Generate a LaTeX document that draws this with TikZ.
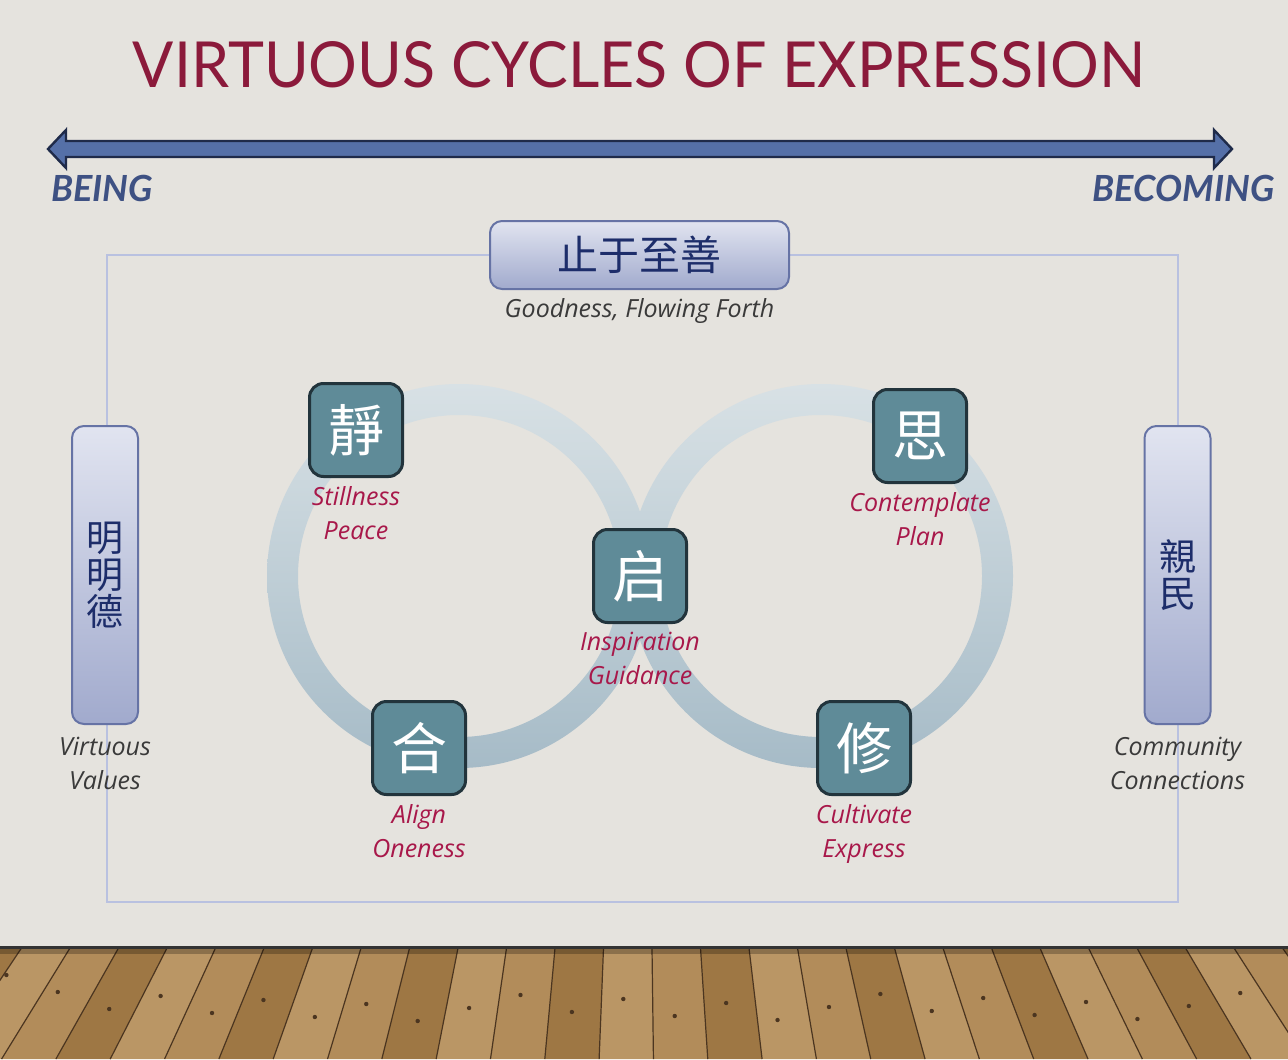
\documentclass[tikz,border=0pt]{standalone}
\usepackage{graphicx}
\usepackage{fontspec}
\setmainfont{Open Sans}
\newfontfamily\titlefont{Lato}
\newfontfamily\cjk{Noto Sans CJK TC}
\usetikzlibrary{positioning}

\definecolor{wall}{HTML}{E5E3DE}
\definecolor{titlered}{HTML}{8B1A3B}
\definecolor{arrowfill}{HTML}{5570A8}
\definecolor{arrowedge}{HTML}{1F2B4A}
\definecolor{beingblue}{HTML}{3E5183}
\definecolor{framelav}{HTML}{B9C1E0}
\definecolor{paneltop}{HTML}{E1E4F0}
\definecolor{panelbot}{HTML}{A1AACD}
\definecolor{paneledge}{HTML}{6673A5}
\definecolor{navyink}{HTML}{1D2D6A}
\definecolor{ringtop}{HTML}{D8E1E5}
\definecolor{ringbot}{HTML}{A6BBC7}
\definecolor{tealbox}{HTML}{5F8B98}
\definecolor{tealedge}{HTML}{22343C}
\definecolor{crimson}{HTML}{A8184A}
\definecolor{graytext}{HTML}{3A3A3A}
\definecolor{wood}{HTML}{A9834F}
\definecolor{wood0}{HTML}{B28C5A}
\definecolor{wood1}{HTML}{9E7744}
\definecolor{wood2}{HTML}{BA9665}
\definecolor{woodline}{HTML}{4B3520}

\tikzset{
  panel/.style={draw=paneledge, line width=1pt, top color=paneltop, bottom color=panelbot,
    rounded corners=6pt, inner sep=0pt, text=navyink},
  kanji/.style={draw=tealedge, fill=tealbox, line width=1.5pt, rounded corners=7pt,
    minimum size=46.5pt, inner sep=0pt, text=white, font=\cjk\fontsize{28}{28}\selectfont},
  redlbl/.style={inner sep=0pt, align=center, text=crimson, font=\itshape\fontsize{12.5}{17}\selectfont},
  graylbl/.style={inner sep=0pt, align=center, text=graytext, font=\itshape\fontsize{12.5}{17}\selectfont},
  poleword/.style={inner sep=0pt, text=beingblue, font=\titlefont\bfseries\itshape\fontsize{18}{18}\selectfont}
}

\begin{document}
\begin{tikzpicture}[x=0.5pt, y=-0.5pt]
    % Sfondo (parete)
    \fill[wall] (0,0) rectangle (1288,1059);
    \useasboundingbox (0,0) rectangle (1288,1059);

    % Pavimento di legno: assi in prospettiva
    \fill[wood] (0,948) rectangle (1288,1059);
    \foreach \k [evaluate=\k as \xa using {70+48.5*\k}, evaluate=\k as \xb using {70+48.5*(\k+1)},
                 evaluate=\k as \m using {int(mod(\k+9,3))}] in {-2,...,25} {
        \fill[wood\m] (\xa,948) -- (\xb,948) -- ({640+(\xb-640)*1.12},1059) -- ({640+(\xa-640)*1.12},1059) -- cycle;
        \draw[woodline, line width=0.6pt] (\xa,948) -- ({640+(\xa-640)*1.12},1059);
        \fill[woodline] ({\xa+22+(\xa-640)*0.06},{992+mod(\k*17,30)}) circle (1.1pt);
    }
    \fill[black, opacity=0.25] (0,948) rectangle (1288,954);
    \draw[black!80, line width=1.2pt] (0,947.5) -- (1288,947.5);

    % Titolo
    \node[text=titlered, inner sep=0pt] (title) at (639,65)
        {\resizebox{506pt}{23pt}{\titlefont VIRTUOUS CYCLES OF EXPRESSION}};

    % Freccia doppia (essere / divenire)
    \filldraw[fill=arrowfill, draw=arrowedge, line width=1.2pt, line join=miter]
        (48,149) -- (66,130) -- (66,141) -- (1214,141) -- (1214,130) -- (1232,149)
        -- (1214,168) -- (1214,157) -- (66,157) -- (66,168) -- cycle;
    \node[poleword, anchor=west] (being) at (51,188) {BEING};
    \node[poleword, anchor=east] (becoming) at (1275,188) {BECOMING};

    % Cornice che collega i tre pannelli
    \draw[framelav, line width=1pt] (107,255) rectangle (1178,902);

    % Anelli dell'otto
    \foreach \cx in {459,821}
        \shade[top color=ringtop, bottom color=ringbot, even odd rule]
            (\cx,576) circle[radius=96pt] (\cx,576) circle[radius=80.5pt];

    % Pannelli
    \node[panel, minimum width=149.5pt, minimum height=34pt, font=\cjk\fontsize{20.5}{20.5}\selectfont]
        (zhishan) at (639.5,255) {止于至善};
    \node[graylbl, below=4pt of zhishan] (zhishanlbl) {Goodness, Flowing Forth};

    \node[panel, minimum width=33pt, minimum height=149pt, align=center,
          font=\cjk\fontsize{18.5}{18.5}\selectfont] (mingde) at (105,575) {明\\明\\德};
    \node[graylbl, below=6pt of mingde] (mingdelbl) {Virtuous\\Values};

    \node[panel, minimum width=33pt, minimum height=149pt, align=center,
          font=\cjk\fontsize{18.5}{18.5}\selectfont] (qinmin) at (1177.5,575) {親\\民};
    \node[graylbl, below=6pt of qinmin] (qinminlbl) {Community\\Connections};

    % Caratteri sul ciclo
    \node[kanji] (jing) at (356,430) {靜};
    \node[kanji] (si) at (920,436) {思};
    \node[kanji] (qi) at (640,576) {启};
    \node[kanji] (he) at (419,748) {合};
    \node[kanji] (xiu) at (864,748) {修};

    \node[redlbl, below=4pt of jing] (jinglbl) {Stillness\\Peace};
    \node[redlbl, below=4pt of si] (silbl) {Contemplate\\Plan};
    \node[redlbl, below=4pt of qi] (qilbl) {Inspiration\\Guidance};
    \node[redlbl, below=4pt of he] (helbl) {Align\\Oneness};
    \node[redlbl, below=4pt of xiu] (xiulbl) {Cultivate\\Express};
\end{tikzpicture}
\end{document}
